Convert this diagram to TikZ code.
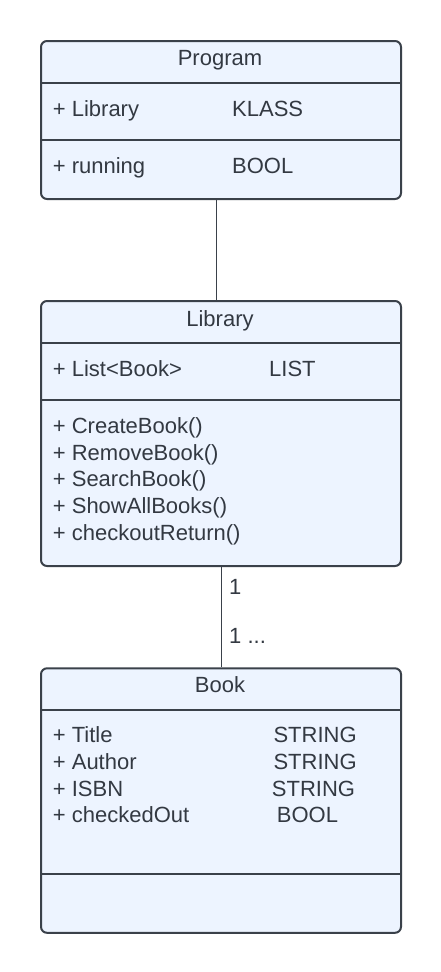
\documentclass[tikz,border=0pt]{standalone}
\usepackage{fontspec}
\setmainfont{Liberation Sans}
\usetikzlibrary{positioning}

\definecolor{umlfill}{RGB}{237,244,255}
\definecolor{umlline}{RGB}{58,65,74}
\definecolor{umltext}{RGB}{51,57,66}

\tikzset{
  classbox/.style={draw=umlline, line width=2pt, fill=umlfill, rounded corners=6pt, inner sep=0pt, anchor=north west},
  divider/.style={draw=umlline, line width=2pt},
  member/.style={anchor=base west, inner sep=0pt, text=umltext},
  title/.style={anchor=base, inner sep=0pt, text=umltext},
  link/.style={draw=umlline, line width=0.9pt},
}

\begin{document}
\begin{tikzpicture}[x=1pt, y=-1pt, font=\fontsize{22}{26.7}\selectfont]
\useasboundingbox (0,0) rectangle (440,972);

% Program
\node[classbox, minimum width=360pt, minimum height=158pt] (program) at (40,40) {};
\draw[divider] (program.west |- 0,82.7) -- (program.east |- 0,82.7);
\draw[divider] (program.west |- 0,140) -- (program.east |- 0,140);
\node[title] (programtitle) at (220,65.7) {Program};
\node[member] (proglib) at (52.7,116.7) {+ Library};
\node[member] (proglibtype) at (232,116.7) {KLASS};
\node[member] (progrun) at (52.7,173.5) {+ running};
\node[member] (progruntype) at (232,173.5) {BOOL};

% Library
\node[classbox, minimum width=360pt, minimum height=265pt] (library) at (40,300) {};
\draw[divider] (library.west |- 0,342.7) -- (library.east |- 0,342.7);
\draw[divider] (library.west |- 0,400) -- (library.east |- 0,400);
\node[title] (librarytitle) at (220,326) {Library};
\node[member] (liblist) at (52.7,376) {+ List<Book>};
\node[member] (liblisttype) at (269,376) {LIST};
\node[member] (libcreate) at (52.7,433.3) {+ CreateBook()};
\node[member] (libremove) at (52.7,460) {+ RemoveBook()};
\node[member] (libsearch) at (52.7,486.7) {+ SearchBook()};
\node[member] (libshow) at (52.7,513.3) {+ ShowAllBooks()};
\node[member] (libcheck) at (52.7,540) {+ checkoutReturn()};

% Book
\node[classbox, minimum width=360pt, minimum height=264.5pt] (book) at (40,667.3) {};
\draw[divider] (book.west |- 0,710) -- (book.east |- 0,710);
\draw[divider] (book.west |- 0,874) -- (book.east |- 0,874);
\node[title] (booktitle) at (220,692.7) {Book};
\node[member] (booktitle1) at (52.7,742.7) {+ Title};
\node[member] (booktitletype) at (273.3,742.7) {STRING};
\node[member] (bookauthor) at (52.7,769.3) {+ Author};
\node[member] (bookauthortype) at (273.3,769.3) {STRING};
\node[member] (bookisbn) at (52.7,796) {+ ISBN};
\node[member] (bookisbntype) at (271.7,796) {STRING};
\node[member] (bookout) at (52.7,822.7) {+ checkedOut};
\node[member] (bookouttype) at (276.7,822.7) {BOOL};

% links
\draw[link] ([xshift=-5pt]program.south) -- ([xshift=-5pt]library.north);
\draw[link] (library.south) -- (book.north);
\node[member] (multone) at (229,594.3) {1};
\node[member] (multmany) at (229,643.3) {1 ...};

\end{tikzpicture}
\end{document}
